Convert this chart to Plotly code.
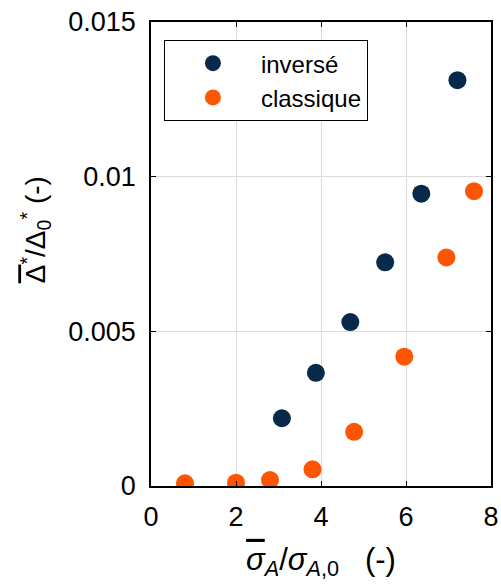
import plotly.graph_objects as go

# data
inv_x = [3.08, 3.88, 4.69, 5.51, 6.36, 7.21]
inv_y = [0.00219, 0.00366, 0.00530, 0.00723, 0.00945, 0.01312]
cla_x = [0.80, 2.00, 2.80, 3.80, 4.78, 5.96, 6.95, 7.60]
cla_y = [0.000087, 0.000107, 0.000194, 0.00054, 0.00175, 0.00418, 0.00739, 0.00953]
names = ["inversé", "classique"]
colors = ["#08294a", "#ff5500"]
x_ticks = [0, 2, 4, 6, 8]
y_ticks = [0, 0.005, 0.01, 0.015]
y_tick_text = ["0", "0.005", "0.01", "0.015"]

FONT = "Liberation Sans, Arial, sans-serif"

fig = go.Figure()
for xs, ys, name, col in [(inv_x, inv_y, names[0], colors[0]), (cla_x, cla_y, names[1], colors[1])]:
    fig.add_trace(go.Scatter(x=xs, y=ys, mode="markers", name=name,
                             marker=dict(size=18, color=col, line=dict(width=0))))

axis_common = dict(showline=True, linecolor="black", linewidth=1.5, mirror="allticks",
                   ticks="inside", ticklen=5, tickwidth=1.2, tickcolor="black",
                   showgrid=True, gridcolor="#dadada", gridwidth=1, zeroline=False,
                   automargin=False,
                   tickfont=dict(family=FONT, size=27, color="black"))

OV = "<span style='text-decoration:overline'>{}</span>"

fig.update_xaxes(range=[0, 8], tickvals=x_ticks, ticktext=[str(v) for v in x_ticks],
                 ticklabelstandoff=6,
                 title=dict(text=OV.format("<i>σ</i>") + "<sub><i>A</i></sub>/<i>σ</i><sub><i>A</i>,0</sub>\u00a0\u00a0\u00a0(-)",
                            font=dict(family=FONT, size=31, color="black"), standoff=17),
                 **axis_common)
fig.update_yaxes(range=[0, 0.015], tickvals=y_ticks, ticktext=y_tick_text,
                 ticklabelstandoff=8, **axis_common)

# y-axis title placed as a rotated annotation (reference title sits above the axis centre)
fig.add_annotation(text=OV.format("Δ") + "<sup>*</sup>/Δ<sub>0</sub><sup>*</sup> (-)",
                   xref="paper", yref="paper", x=-0.34, y=0.552,
                   xanchor="center", yanchor="middle", textangle=-90, showarrow=False,
                   font=dict(family=FONT, size=28, color="black"))

fig.update_layout(
    width=501, height=585,
    margin=dict(l=151, r=10, t=22, b=99, autoexpand=False),
    plot_bgcolor="white", paper_bgcolor="white",
    showlegend=True,
    legend=dict(x=0.038, y=0.961, xanchor="left", yanchor="top",
                bgcolor="white", bordercolor="black", borderwidth=1,
                font=dict(family=FONT, size=24, color="black"),
                itemwidth=86, tracegroupgap=0),
)

fig.write_html("out.html", config={"displayModeBar": False},
               post_script="document.body.style.margin='0';document.body.style.overflow='hidden';")
